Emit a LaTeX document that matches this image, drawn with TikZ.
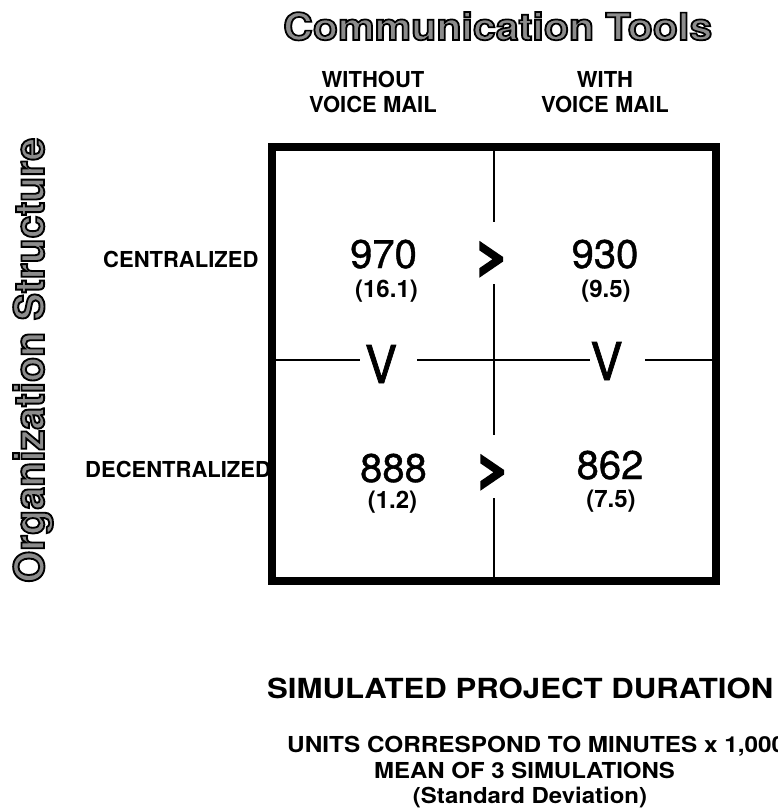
\documentclass[tikz,border=0pt]{standalone}
\usepackage{fontspec}
\setmainfont{TeX Gyre Heros}
\usepackage{graphicx}
\newcommand\outl[2]{\special{pdf:literal direct 0 G #1 w 2 Tr}#2\special{pdf:literal direct 0 Tr 0.4 w}}
\newcommand\sxx[2]{\scalebox{#1}[1]{#2}}
\begin{document}
\begin{tikzpicture}[x=1pt,y=-1pt,
  lbl/.style={font=\bfseries\fontsize{22}{25}\selectfont, inner sep=0},
  num/.style={font=\fontsize{40}{40}\selectfont, inner sep=0, anchor=base},
  sd/.style={font=\bfseries\fontsize{24}{24}\selectfont, inner sep=0, anchor=base},
  cmp/.style={inner sep=0, anchor=base},
  rule/.style={line width=2.5pt},
  frm/.style={draw, line width=8pt, inner sep=0}]
\useasboundingbox (0,0) rectangle (777,809);

% titles
\node[anchor=base west, inner sep=0, text=black!45] (title) at (283,40)
  {\resizebox{429pt}{28pt}{\outl{0.45}{\bfseries Communication Tools}}};
\node[rotate=90, anchor=base west, inner sep=0, text=black!45] (org) at (44,583)
  {\resizebox{445pt}{31pt}{\outl{0.45}{\bfseries Organization Structure}}};

% column headers
\node[lbl, anchor=base] (h1a) at (373,87) {WITHOUT};
\node[lbl, anchor=base] (h1b) at (373,112) {VOICE MAIL};
\node[lbl, anchor=base] (h2a) at (605,87) {WITH};
\node[lbl, anchor=base] (h2b) at (605,112) {VOICE MAIL};

% row labels
\node[lbl, anchor=base west] (cen) at (103,267) {CENTRALIZED};
\node[lbl, anchor=base west] (dec) at (85,477) {DECENTRALIZED};

% frame
\node[frm, minimum width=444pt, minimum height=433.5pt] (frame) at (494,363.75) {};

% dividers
\draw[rule] (494,151) -- (494,222);
\draw[rule] (494,284) -- (494,435);
\draw[rule] (494,498) -- (494,577);
\draw[rule] (276,360) -- (360,360);
\draw[rule] (417,360) -- (590,360);
\draw[rule] (645,360) -- (712,360);

% cells
\node[num] (n11) at (383.5,268) {\outl{0.4}{970}};
\node[sd]  (s11) at (386.5,297) {(16.1)};
\node[num] (n12) at (605,268) {\outl{0.4}{930}};
\node[sd]  (s12) at (606,297) {(9.5)};
\node[num] (n21) at (393.5,482) {\outl{0.4}{888}};
\node[sd]  (s21) at (392.5,508) {(1.2)};
\node[num] (n22) at (610,479) {\outl{0.4}{862}};
\node[sd]  (s22) at (611,507) {(7.5)};

% comparators
\node[cmp] (g1) at (492,270) {\resizebox{31pt}{26pt}{\outl{0.7}{\bfseries >}}};
\node[cmp] (g2) at (493,483) {\resizebox{31pt}{26pt}{\outl{0.7}{\bfseries >}}};
\node[cmp] (v1) at (381,383) {\resizebox{32pt}{38pt}{\outl{0.15}{V}}};
\node[cmp] (v2) at (606.5,380) {\resizebox{32pt}{38pt}{\outl{0.15}{V}}};

% bottom texts
\node[anchor=base west, inner sep=0] (sim) at (267,698)
  {\resizebox{506pt}{20.5pt}{\bfseries SIMULATED PROJECT DURATION}};
\node[lbl, anchor=base west] (units) at (287,752) {\sxx{1.105}{UNITS CORRESPOND TO MINUTES x 1,000}};
\node[lbl, anchor=base] (mean) at (524.5,778) {\sxx{1.09}{MEAN OF 3 SIMULATIONS}};
\node[lbl, anchor=base] (stdv) at (530,803) {\sxx{1.09}{(Standard Deviation)}};
\end{tikzpicture}
\end{document}
